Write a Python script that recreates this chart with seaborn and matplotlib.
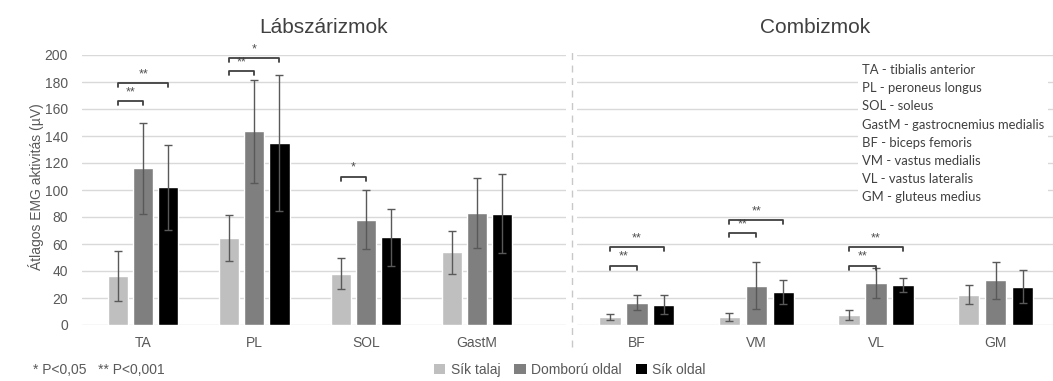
import pandas as pd
import matplotlib.pyplot as plt
from matplotlib.lines import Line2D
from matplotlib.patches import Patch
import seaborn as sns

# --- data ---
conditions = ['Sík talaj', 'Domború oldal', 'Sík oldal']
colors = ['#bfbfbf', '#7f7f7f', '#000000']

leg_muscles = ['TA', 'PL', 'SOL', 'GastM']
leg_means = {
    'Sík talaj':     [36.5, 64.5, 38, 54],
    'Domború oldal': [116, 143.5, 78, 83],
    'Sík oldal':     [102, 135, 65, 82.5],
}
leg_sd = {
    'Sík talaj':     [18.5, 17, 11.5, 16],
    'Domború oldal': [34, 38, 22, 26],
    'Sík oldal':     [31.5, 50.5, 21, 29],
}

thigh_muscles = ['BF', 'VM', 'VL', 'GM']
thigh_means = {
    'Sík talaj':     [6, 6, 7.5, 22.5],
    'Domború oldal': [16.5, 29, 31, 33],
    'Sík oldal':     [15, 24.5, 29.5, 28.5],
}
thigh_sd = {
    'Sík talaj':     [2, 3, 3.5, 7],
    'Domború oldal': [5.5, 17.5, 11, 13.5],
    'Sík oldal':     [7, 9, 5, 12.5],
}

# significance brackets: (muscle index, condition a, condition b, height, label)
leg_sig = [(0, 0, 1, 166, '**'), (0, 0, 2, 179, '**'),
           (1, 0, 1, 188, '**'), (1, 0, 2, 198, '*'),
           (2, 0, 1, 110, '*')]
thigh_sig = [(0, 0, 1, 44, '**'), (0, 0, 2, 57.5, '**'),
             (1, 0, 1, 68, '**'), (1, 0, 2, 78, '**'),
             (2, 0, 1, 44, '**'), (2, 0, 2, 57.5, '**')]

abbrev = ['TA - tibialis anterior', 'PL - peroneus longus', 'SOL - soleus',
          'GastM - gastrocnemius medialis', 'BF - biceps femoris',
          'VM - vastus medialis', 'VL - vastus lateralis', 'GM - gluteus medius']

yticks = list(range(0, 201, 20))

sns.set_theme(style='white')
plt.rcParams['font.family'] = ['Liberation Sans', 'DejaVu Sans']
TXT = '#595959'


def to_frame(muscles, means, sds):
    rows = []
    for c in conditions:
        for m, v, s in zip(muscles, means[c], sds[c]):
            rows.append({'muscle': m, 'condition': c, 'mean': v, 'sd': s})
    return pd.DataFrame(rows)


def draw_panel(ax, muscles, means, sds, sig, xlim, title):
    df = to_frame(muscles, means, sds)
    sns.barplot(data=df, x='muscle', y='mean', hue='condition', order=muscles,
                hue_order=conditions, palette=colors, width=0.675, gap=0.2,
                errorbar=None, legend=False, ax=ax, saturation=1, zorder=3)
    for cont, c in zip(ax.containers, conditions):
        xs = [p.get_x() + p.get_width() / 2 for p in cont]
        ax.errorbar(xs, means[c], yerr=sds[c], fmt='none', ecolor='#595959',
                    elinewidth=1, capsize=3, capthick=1, zorder=4)
    for i, a, b, h, lab in sig:
        pa = ax.containers[a][i]
        pb = ax.containers[b][i]
        x1 = pa.get_x() + pa.get_width() / 2
        x2 = pb.get_x() + pb.get_width() / 2
        ax.plot([x1, x1, x2, x2], [h - 3, h, h, h - 3], color='#404040',
                lw=1.3, clip_on=False, zorder=5)
        ax.text((x1 + x2) / 2, h + 2, lab, ha='center', va='bottom',
                fontsize=9, color='#505050', clip_on=False)
    ax.set_ylim(0, 200)
    ax.set_xlim(*xlim)
    ax.set_yticks(yticks)
    ax.yaxis.grid(True, color='#d9d9d9', lw=1, zorder=0)
    ax.set_axisbelow(True)
    for s in ax.spines.values():
        s.set_visible(False)
    ax.set_xlabel('')
    ax.set_ylabel('')
    ax.tick_params(axis='x', length=0, pad=8, labelsize=10, labelcolor=TXT)
    ax.tick_params(axis='y', length=0, pad=10, labelsize=10, labelcolor=TXT)
    ax.set_title(title, fontsize=15, color='#404040', pad=16)


fig = plt.figure(figsize=(10.53, 3.81), dpi=100)
W, H = 1053, 381
bottom = (H - 325) / H
height = 270 / H
ax1 = fig.add_axes([82 / W, bottom, (566 - 82) / W, height])
ax2 = fig.add_axes([577 / W, bottom, (1053 - 577) / W, height])

draw_panel(ax1, leg_muscles, leg_means, leg_sd, leg_sig, (-0.55, 3.80), 'Lábszárizmok')
draw_panel(ax2, thigh_muscles, thigh_means, thigh_sd, thigh_sig, (-0.50, 3.48), 'Combizmok')
ax2.tick_params(axis='y', labelleft=False)

# dashed separator between the two groups
fig.add_artist(Line2D([572 / W, 572 / W], [(H - 347) / H, (H - 50) / H],
                      color='#c8c8c8', lw=1, ls=(0, (5, 4)), transform=fig.transFigure))

fig.text(36 / W, (H - 187) / H, 'Átlagos EMG aktivitás (µV)', rotation=90,
         ha='center', va='center', fontsize=10, color=TXT)

# abbreviation list with white box covering the gridlines
fig.text(862 / W, (H - 64) / H, '\n'.join(abbrev), ha='left', va='top',
         fontsize=9.4, color='#404040', linespacing=1.62, family=['Lato', 'DejaVu Sans'],
         bbox=dict(boxstyle='square,pad=0.3', fc='white', ec='none'))

fig.text(33 / W, 11 / H, '* P<0,05   ** P<0,001', ha='left', va='center',
         fontsize=10, color=TXT)

handles = [Patch(facecolor=c, edgecolor='none') for c in colors]
fig.legend(handles, conditions, loc='center', bbox_to_anchor=(570 / W, 11 / H),
           ncol=3, frameon=False, fontsize=10, handlelength=0.8, handleheight=0.8,
           handletextpad=0.4, columnspacing=1.0, labelcolor=TXT)

fig.savefig('out.png', dpi=100, facecolor='white')
